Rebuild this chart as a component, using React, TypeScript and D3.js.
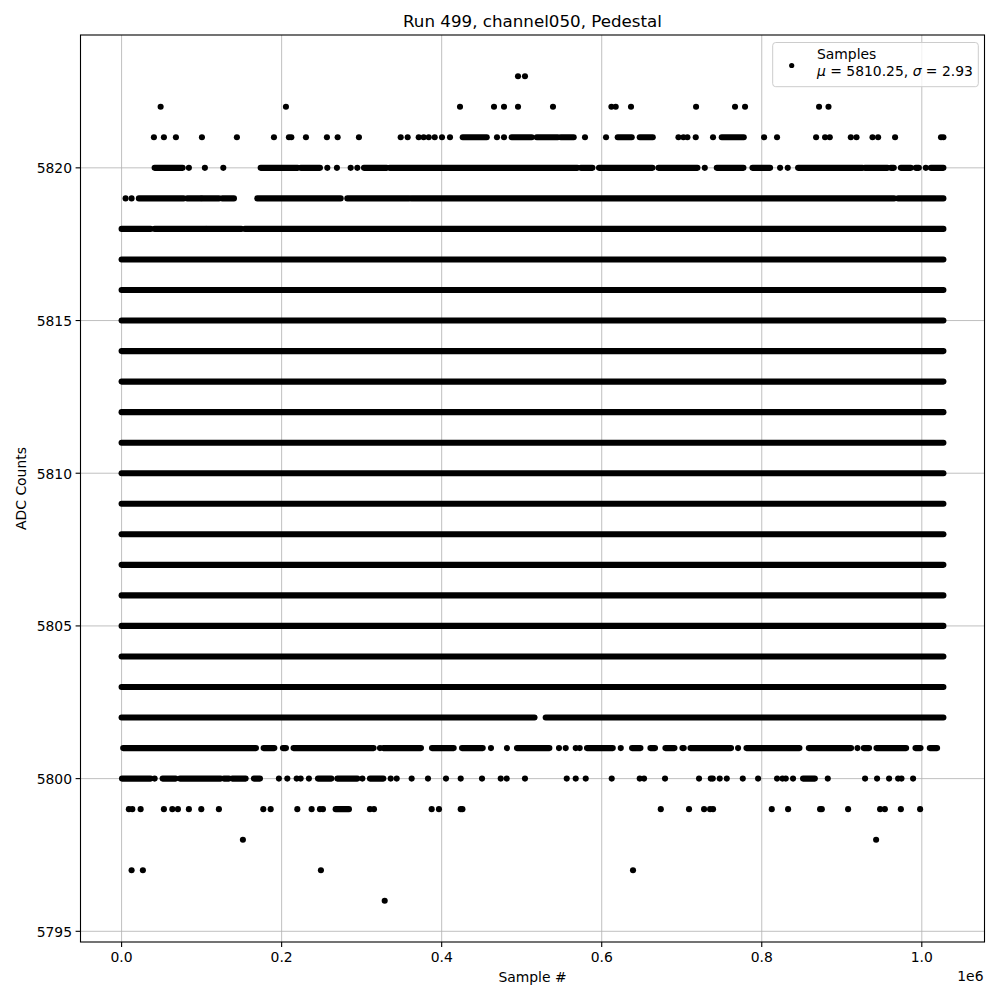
import React from 'react';
import * as d3 from 'd3';

type Mark = number | [number, number];

// ---- data (x values are in thousands of samples) ----
const TITLE = 'Run 499, channel050, Pedestal';
const X_LABEL = 'Sample #';
const Y_LABEL = 'ADC Counts';
const X_TICKS = [0, 200000, 400000, 600000, 800000, 1000000];
const X_TICK_LABELS = ['0.0', '0.2', '0.4', '0.6', '0.8', '1.0'];
const Y_TICKS = [5795, 5800, 5805, 5810, 5815, 5820];
const MU = 5810.25;
const SIGMA = 2.93;

const DENSE_LEVELS = [5803, 5804, 5805, 5806, 5807, 5808, 5809, 5810, 5811, 5812, 5813, 5814, 5815, 5816, 5817];
const DENSE_SPAN: Mark[] = [[0, 1027]];

const ROW_5823: Mark[] = [495.4, 504.1];
const ROW_5822: Mark[] = [48.8, 205.4, 422.9, 465.4, 477.9, 495.4, 539.1, 612.1, 617.5, 636.6, 717.9, 766.6, 779.1, 871.6, 883.4];
const ROW_5821: Mark[] = [40.4, 52.9, 67.9, 100.4, 144.1, 190.4, 209.1, 212.1, 230.4, 256.6, 270, 296.6, 348.8, 357.5, 371.3, 377.5, 383.8, 391.3, 400.4, 410.4, [426.3, 456.3], 469.1, 477.9, [487.5, 512.5], [518.8, 545], [548.8, 565], 579.1, 605.4, [620, 637.5], [647.5, 663.8], 695.9, 702.1, 707.1, 717.5, 739.1, [750, 777.5], 802.9, 819.1, 867.9, 879.1, 885, 911.3, 918.4, 938.4, 945.4, 966.6, 1024, 1027];
const ROW_5820: Mark[] = [[41.3, 76.3], 84.1, 104.1, 127.1, [173.8, 220], [223.8, 247.9], 257.1, 269.1, 286.3, 294.6, [302.9, 331.3], [335, 569.6], [573.8, 588.4], [596.6, 663.4], [670.9, 719.6], 728.8, [743.8, 777.1], [788.4, 810.4], 822.9, 832.5, [845.4, 925.9], [928.8, 957.1], [961.3, 965], [973.8, 986.3], [992.5, 996.3], 1005, [1011.3, 1027]];
const ROW_5819: Mark[] = [5, 12.5, [21.6, 77.5], [82.1, 98.8], [100.9, 121.6], [125.9, 140.4], [169.6, 273.8], [282.1, 359.1], [362.1, 965.4], [970.4, 1027]];
const ROW_5818: Mark[] = [[0, 36.3], [41.3, 105], [106.3, 149.6], [154.1, 1027]];
const ROW_5802: Mark[] = [[0, 516], [530, 1027]];
const ROW_5801: Mark[] = [[2, 167.9], [177.5, 190.9], [201.6, 205.4], [214.9, 314.9], 322.9, [327.1, 374.1], [387.9, 415], [425.4, 451.3], 461.6, 481.6, [494.1, 534.6], 546.6, 555, 567.5, 572.5, [581.6, 613.8], 623.8, [637.9, 648.4], [660.9, 666.6], [679.6, 690.9], 700.9, 702.5, [710.9, 761.6], 770.4, [780.9, 847.1], [858.8, 911.6], 919.6, [927.5, 934.1], [943.4, 980.4], [992.1, 998.4], [1010, 1019.1]];
const ROW_5800: Mark[] = [[0.5, 36.3], 41.3, [51.3, 67.5], [72.9, 123.8], [127.9, 134.1], [138.4, 155], [165.4, 172.9], 196.6, 207.1, 218.8, 223.8, 234.1, [245.4, 262.1], [269.6, 294.6], 300.9, [310.4, 327.1], 336.3, 343.8, 362.5, 382.9, 405.4, 423.8, 450.4, 473.8, 481.3, 504.1, 556.3, 567.5, 580, 612.5, 647.5, 652.9, 679.1, 721.6, 736.3, 738.8, 747.5, 756.3, 776.3, 795.4, 819.1, 825.9, 830, 839.1, [851.6, 866.3], 882.5, 929.1, 944.1, 959.1, 970.4, 974.6, 989.1];
const ROW_5799: Mark[] = [9.1, 13.4, 23.8, 52.9, 63.4, 70.4, 84.1, 99.6, 121.6, 177.1, 186.3, 219.6, 237.5, 247.9, 251.6, [267.5, 284.1], 310.4, 315.4, 387.5, 396.6, 423.8, 425.9, 673.8, 709.1, 727.9, 735.4, 739.1, 812.5, 832.9, 872.9, 875, 907.9, 947.9, 953.8, 973.8, 997.9];
const ROW_5798: Mark[] = [151.6, 942.9];
const ROW_5797: Mark[] = [12.5, 26.6, 249.1, 639.1];
const ROW_5796: Mark[] = [328.8];

const ROWS: { level: number; marks: Mark[] }[] = [
  { level: 5823, marks: ROW_5823 },
  { level: 5822, marks: ROW_5822 },
  { level: 5821, marks: ROW_5821 },
  { level: 5820, marks: ROW_5820 },
  { level: 5819, marks: ROW_5819 },
  { level: 5818, marks: ROW_5818 },
  ...DENSE_LEVELS.map((level) => ({ level, marks: DENSE_SPAN })),
  { level: 5802, marks: ROW_5802 },
  { level: 5801, marks: ROW_5801 },
  { level: 5800, marks: ROW_5800 },
  { level: 5799, marks: ROW_5799 },
  { level: 5798, marks: ROW_5798 },
  { level: 5797, marks: ROW_5797 },
  { level: 5796, marks: ROW_5796 },
];

const FONT = '"DejaVu Sans", sans-serif';

export default function App() {
  const left = 80.5, right = 984.5, top = 35, bottom = 942;
  const R = 3.05;

  const allX: number[] = [];
  ROWS.forEach((r) => r.marks.forEach((m) => {
    if (typeof m === 'number') allX.push(m * 1000);
    else { allX.push(m[0] * 1000, m[1] * 1000); }
  }));
  const [xmin, xmax] = d3.extent(allX) as [number, number];
  const xpad = (xmax - xmin) * 0.05;
  const levels = ROWS.map((r) => r.level);
  const [ymin, ymax] = d3.extent(levels) as [number, number];
  const ypad = (ymax - ymin) * 0.05;

  const x = d3.scaleLinear().domain([xmin - xpad, xmax + xpad]).range([left, right]);
  const y = d3.scaleLinear().domain([ymin - ypad, ymax + ypad]).range([bottom, top]);

  const grid = '#b0b0b0';

  return (
    <svg width={1000} height={1000} style={{ position: 'absolute', left: 0, top: 0, display: 'block', background: '#fff' }} fontFamily={FONT}>
      <rect x={0} y={0} width={1000} height={1000} fill="#fff" />
      {/* grid */}
      {X_TICKS.map((t) => (
        <line key={'gx' + t} x1={x(t)} x2={x(t)} y1={top} y2={bottom} stroke={grid} strokeWidth={0.8} />
      ))}
      {Y_TICKS.map((t) => (
        <line key={'gy' + t} x1={left} x2={right} y1={y(t)} y2={y(t)} stroke={grid} strokeWidth={0.8} />
      ))}
      {/* data */}
      <g fill="#000" stroke="#000">
        {ROWS.map((r) =>
          r.marks.map((m, i) => {
            const cy = y(r.level);
            if (typeof m === 'number') {
              return <circle key={r.level + '-' + i} cx={x(m * 1000)} cy={cy} r={R} stroke="none" />;
            }
            return (
              <line key={r.level + '-' + i} x1={x(m[0] * 1000)} x2={x(m[1] * 1000)} y1={cy} y2={cy}
                strokeWidth={R * 2} strokeLinecap="round" />
            );
          })
        )}
      </g>
      {/* spines */}
      <rect x={left} y={top} width={right - left} height={bottom - top} fill="none" stroke="#000" strokeWidth={1.1} />
      {/* x ticks */}
      {X_TICKS.map((t, i) => (
        <g key={'xt' + t}>
          <line x1={x(t)} x2={x(t)} y1={bottom} y2={bottom + 4.9} stroke="#000" strokeWidth={1.1} />
          <text x={x(t)} y={962} textAnchor="middle" fontSize={13.9} fill="#000">{X_TICK_LABELS[i]}</text>
        </g>
      ))}
      <text x={983.5} y={980.5} textAnchor="end" fontSize={13.9} fill="#000">1e6</text>
      {/* y ticks */}
      {Y_TICKS.map((t) => (
        <g key={'yt' + t}>
          <line x1={left - 4.9} x2={left} y1={y(t)} y2={y(t)} stroke="#000" strokeWidth={1.1} />
          <text x={left - 8.5} y={y(t) + 5.3} textAnchor="end" fontSize={13.9} fill="#000">{t}</text>
        </g>
      ))}
      {/* labels */}
      <text x={(left + right) / 2} y={982} textAnchor="middle" fontSize={13.9} fill="#000">{X_LABEL}</text>
      <text transform={`translate(26,${(top + bottom) / 2}) rotate(-90)`} textAnchor="middle" fontSize={13.9} fill="#000">{Y_LABEL}</text>
      <text x={(left + right) / 2} y={27} textAnchor="middle" fontSize={16.7} fill="#000">{TITLE}</text>
      {/* legend */}
      <rect x={772.7} y={42.5} width={205.6} height={44.2} rx={3} ry={3} fill="#fff" fillOpacity={0.8} stroke="#cccccc" strokeWidth={1} />
      <circle cx={791.7} cy={65.5} r={2.6} fill="#000" />
      <text x={817} y={58.5} fontSize={13.9} fill="#000">Samples</text>
      <text x={817} y={75.5} fontSize={13.9} fill="#000">
        <tspan fontStyle="italic">μ</tspan> = {MU.toFixed(2)}, <tspan fontStyle="italic">σ</tspan> = {SIGMA.toFixed(2)}
      </text>
    </svg>
  );
}
